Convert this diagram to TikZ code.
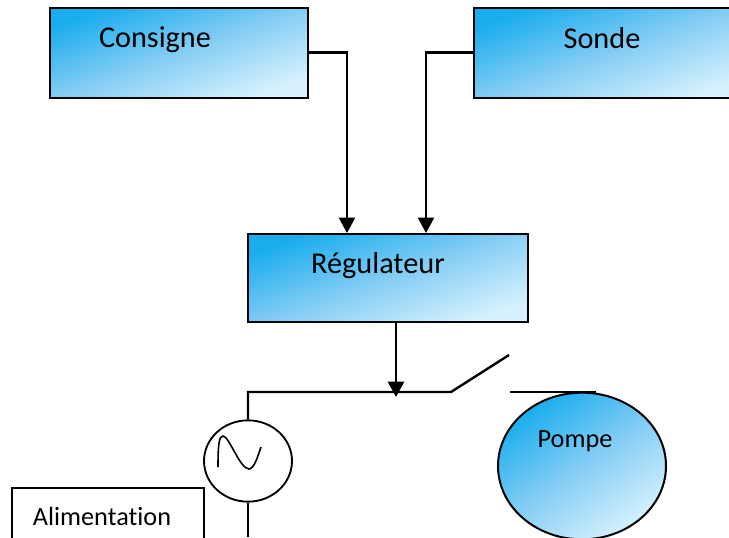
\documentclass[tikz,border=0pt]{standalone}
\usepackage{fontspec}
\setmainfont[Ligatures=NoCommon]{Carlito}
\usetikzlibrary{arrows.meta,calc,shapes.geometric}
\definecolor{gradA}{HTML}{1AADEE}
\definecolor{gradB}{HTML}{D6F1FD}
\definecolor{gradM}{HTML}{84CDF4}
\tikzset{
  x=0.75pt,y=-0.75pt,
  grad/.style={draw=black,line width=1.5pt,top color=gradA,bottom color=gradB,middle color=gradM,shading angle=20},
  panel/.style={grad,rectangle,inner sep=0pt},
  wire/.style={draw=black,line width=1.8pt},
  arrowed/.style={wire,-{Triangle[length=11.5pt,width=12pt]}},
  label/.style={text=black,inner sep=0pt,anchor=center},
  bigtext/.style={font=\fontsize{22.7}{24}\selectfont},
  smalltext/.style={font=\fontsize{19.7}{21}\selectfont}
}
\begin{document}
\begin{tikzpicture}
\useasboundingbox (0,0) rectangle (729,537);
\clip (0,0) rectangle (729,537);
\node[panel,minimum width=193.5pt,minimum height=67.5pt] (consigne) at (178.5,52.5) {};
\node[panel,minimum width=206pt,minimum height=67.5pt] (sonde) at (611.5,52.5) {};
\node[panel,minimum width=210pt,minimum height=66pt] (regul) at (388,278) {};
\node[draw=black,line width=1pt,minimum width=144pt,minimum height=90pt,inner sep=0pt] (alim) at (108,548) {};
\node[grad,shading angle=35,ellipse,minimum width=126pt,minimum height=110pt,inner sep=0pt] (pompe) at (582,466) {};
\node[draw=black,line width=1.4pt,ellipse,minimum width=66pt,minimum height=61pt,inner sep=0pt] (source) at (248,461) {};
\node[label,bigtext] (t1) at (155,40) {Consigne};
\node[label,bigtext] (t2) at (602,38) {Sonde};
\node[label,bigtext] (t3) at (378,266) {Régulateur};
\node[label,smalltext] (t4) at (102,516) {Alimentation};
\node[label,smalltext] (t5) at (575,441) {Pompe};
\coordinate (inA) at (347,233);
\coordinate (inB) at (426,233);
\coordinate (tap) at (396,397);
\coordinate (corner) at (248,392);
\coordinate (swA) at (451,392);
\coordinate (swB) at (509,355);
\coordinate (swC) at (510,392);
\coordinate (swD) at (596,392);
\coordinate (down) at (248,537);
\draw[arrowed] (consigne.east) -| (inA);
\draw[arrowed] (sonde.west) -| (inB);
\draw[arrowed] (regul.south -| tap) -- (tap);
\draw[wire] (source.north) -- (corner) -- (swA) -- (swB);
\draw[wire] (swC) -- (swD);
\draw[wire] (source.south) -- (down);
\draw[line width=1.2pt] (218,467) .. controls (218,445) and (219,436) .. (223,436) .. controls (229,436) and (240,469) .. (249,469) .. controls (254,469) and (258,456) .. (261,447);
\end{tikzpicture}
\end{document}
